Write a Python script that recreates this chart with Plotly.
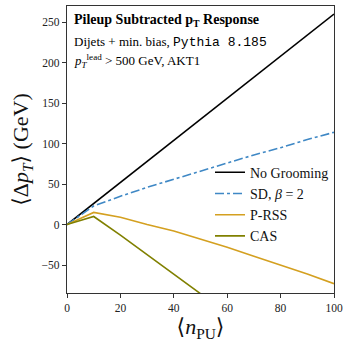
import plotly.graph_objects as go

n_pu = [0, 10, 20, 30, 40, 50, 60, 70, 80, 90, 100]
no_grooming = [0, 26, 52, 78, 104, 130, 156, 182, 208, 234, 260]
sd_beta2 = [0, 23, 35, 46, 56, 66, 76, 86, 95, 105, 114]
prss = [0, 15, 9, 0, -8, -18, -28, -39, -50, -61, -73]
cas = [0, 10, -13, -37, -61, -86, -110, -134, -158, -182, -206]

names = ["No Grooming", "SD, <i>β</i> = 2", "P-RSS", "CAS"]
colors = ["#000000", "#3f88c5", "#d4a020", "#808000"]
dashes = ["solid", "dashdot", "solid", "solid"]
series = [no_grooming, sd_beta2, prss, cas]

serif = "Liberation Serif, DejaVu Serif, serif"

fig = go.Figure()
for nm, ys, c, d in zip(names, series, colors, dashes):
    fig.add_trace(go.Scatter(x=n_pu, y=ys, mode="lines", name=nm,
                             line=dict(color=c, width=1.6, dash=d)))

axis_common = dict(showline=True, mirror=True, linecolor="#333333", linewidth=1.2,
                   ticks="outside", ticklen=4, tickcolor="#333333", showgrid=False,
                   zeroline=False, automargin=False,
                   tickfont=dict(family=serif, size=11.5, color="#222"))

fig.update_layout(
    width=345, height=342, autosize=False,
    margin=dict(l=67, r=11, t=6, b=49, pad=0),
    plot_bgcolor="white", paper_bgcolor="white",
    font=dict(family=serif, color="#111"),
    xaxis=dict(range=[0, 100], tickvals=[0, 20, 40, 60, 80, 100],
               title=dict(text="⟨<i>n</i><sub>PU</sub>⟩", font=dict(size=22), standoff=4),
               **axis_common),
    yaxis=dict(range=[-84.5, 270], tickvals=[-50, 0, 50, 100, 150, 200, 250],
               ticktext=["−50", "0", "50", "100", "150", "200", "250"],
               title=dict(text="⟨Δ<i>p<sub>T</sub></i>⟩ (GeV)", font=dict(size=22), standoff=6),
               **axis_common),
    legend=dict(x=1.0, y=0.475, xanchor="right", yanchor="top",
                bgcolor="rgba(255,255,255,0)", font=dict(family=serif, size=14),
                itemwidth=30, tracegroupgap=0),
    showlegend=True,
)

fig.add_annotation(xref="paper", yref="paper", x=0.02, y=0.985, xanchor="left", yanchor="top",
                   text="<b>Pileup Subtracted p<sub>T</sub> Response</b>", showarrow=False,
                   font=dict(family=serif, size=14, color="#000"))
fig.add_annotation(xref="paper", yref="paper", x=0.02, y=0.91, xanchor="left", yanchor="top",
                   text="Dijets + min. bias, <span style=\"font-family:Liberation Mono\">Pythia 8.185</span>",
                   showarrow=False, font=dict(family=serif, size=13, color="#000"))
fig.add_annotation(xref="paper", yref="paper", x=0.02, y=0.845, xanchor="left", yanchor="top",
                   text="<i>p</i><sub><i>T</i></sub><sup>lead</sup> > 500 GeV, AKT1",
                   showarrow=False, font=dict(family=serif, size=13, color="#000"))

fig.write_html("out.html", config={"displayModeBar": False},
               post_script="document.body.style.margin='0';document.body.style.padding='0';")
